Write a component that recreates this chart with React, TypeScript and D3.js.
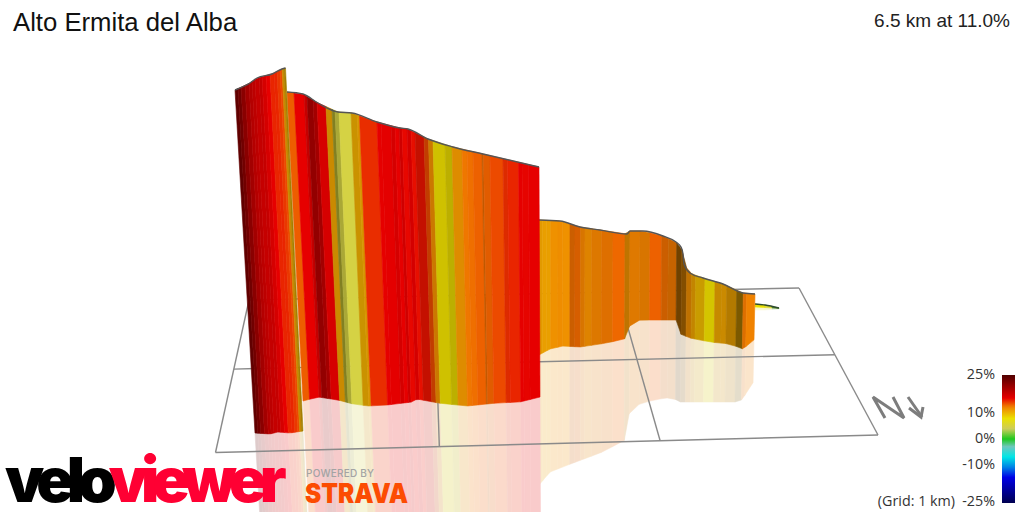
import React from 'react';
import * as d3 from 'd3';

const width = 1024;
const height = 512;

// The 3D wall has no axes, so everything is read in view units (0-1024, 0-512)
const sectionAEdges = [235, 238, 241, 245, 249, 252, 255, 259, 262, 266, 270, 274, 277, 280, 282, 284, 285.5];
const sectionAGrades = [24, 23, 21.5, 20, 19, 18.5, 18, 18, 17, 16, 15, 15, 14.5, 14, 11, 10];
const sectionAShade = [1, 1, 1, 1, 1, 1, 1, 1, 1, 1, 1, 1, 1, 1, 0.85, 0.7];
const sectionARidgeX = [235, 250, 257, 272, 282, 285.5];
const sectionARidgeY = [90, 83, 78, 74, 69, 68];
const sectionABaseX = [255, 270, 278, 290, 303];
const sectionABaseY = [433, 434, 432, 433, 431];
const sectionALean = [255, 303];

const sectionBEdges = [287, 294, 304, 307, 313, 317, 326, 332, 335, 339, 351, 357, 359.5, 377, 381, 391, 395, 399, 402, 407, 411, 415, 424, 428.5, 433, 445, 452, 462, 467, 473, 482, 483.5, 490, 503, 507.5, 518.5, 522, 528.5, 539];
const sectionBGrades = [13.5, 16, 18, 21, 20, 16, 11, 5.5, 5, 5, 10.5, 10.8, 14.8, 16, 16.1, 17, 16, 16, 15.8, 16, 15.6, 15.5, 14, 12, 8.3, 8.3, 11.5, 12.8, 13, 13.4, 13, 13.4, 14, 14.8, 15, 16, 15.9, 16];
const sectionBShade = [1, 1, 1, 1, 1, 0.93, 0.85, 0.6, 0.8, 1, 0.85, 0.9, 1, 1, 1, 1, 1, 0.9, 1, 0.92, 1, 0.85, 0.82, 0.85, 0.88, 0.8, 0.93, 1, 1, 1, 0.8, 0.95, 1, 0.95, 1, 1, 1, 1];
const sectionBRidgeX = [287, 303, 318, 338, 352, 377, 400, 408, 428, 453, 483, 539];
const sectionBRidgeY = [92, 94, 103, 112, 113, 122, 128, 129, 139, 147, 154, 167];
const sectionBBaseX = [303, 318, 338, 353, 368, 387, 412, 417, 433, 438, 467, 497, 520, 540];
const sectionBBaseY = [401, 397, 400, 404, 406, 405, 402, 399, 402, 403, 406, 403, 402, 397];
const sectionBLean = [303, 540];

const sectionCEdges = [539, 542.7, 546.7, 550.7, 558, 562.7, 570, 575, 580.7, 585, 591.7, 601.7, 613, 625, 630, 640, 650, 661.7, 668.3, 676.7, 681.7, 686.7, 691.7, 695.7, 705, 715, 721.7, 726.7, 736.7, 743.3, 746.7, 755];
const sectionCGrades = [11, 11, 11, 11.8, 12, 11.8, 13, 13.2, 12.5, 12, 12.5, 12.8, 13.2, 11.8, 12.5, 12.5, 13.4, 13, 12.8, 12, 12, 12, 11, 10, 8.3, 10.8, 11, 11, 10.5, 12.8, 12.5];
const sectionCShade = [0.95, 0.98, 0.98, 1, 1, 1, 0.85, 0.9, 0.9, 0.93, 0.92, 0.93, 1, 0.8, 0.93, 0.9, 1, 0.85, 0.83, 0.47, 0.55, 0.8, 0.82, 0.85, 0.9, 0.83, 0.85, 0.75, 0.52, 0.93, 1];
const sectionCRidgeX = [539, 560, 580, 600, 627, 630, 643, 663, 676, 681, 683, 684, 690, 703, 723, 743, 755];
const sectionCRidgeY = [220, 221, 227, 230, 234, 231, 231, 236, 242, 247, 254, 264, 273, 278, 284, 293, 294];
const sectionCBaseX = [539, 550, 563, 580, 607, 628, 630, 640, 677, 678, 690, 710, 730, 743, 755];
const sectionCBaseY = [355, 349, 346, 347, 343, 338, 323, 320, 320, 333, 338, 342, 344, 349, 339];
const sectionCLean = [539, 754];
const sectionCMirrorX = [539, 550, 573, 600, 610, 625, 628, 637, 653, 673, 678, 740, 745, 752, 755];
const sectionCMirrorY = [485, 472, 463, 453, 448, 440, 415, 405, 400, 397, 402, 402, 395, 383, 382];

const tailEdges = [755, 765, 772, 779];
const tailGrades = [8, 6, 2];
const tailShade = [1, 1, 0.7];
const tailRidgeX = [755, 765, 779];
const tailRidgeY = [304, 305, 308];
const tailBaseX = [755, 765, 779];
const tailBaseY = [307, 307.5, 308.5];
const tailLean = [755, 779];

const reflectionScale = 0.95;

// Floor grid: 3 x 2 km, corners
const gridCols = [0, 1, 2, 3];
const gridRows = [0, 1, 2];
const floorFrontLeft = [215.5, 452.5];
const floorFrontRight = [878, 435];
const floorBackRight = [799, 288];
const floorBackLeft = [249, 300];

// Colour ramp of the legend
const legendGrades = [25, 16, 12.5, 8, 4, 0, -3, -7, -11, -15, -25];
const legendColours = ['#500000', '#e60000', '#f08200', '#ebe100', '#cdcd5a', '#1ec81e', '#6ec8be', '#00e6e6', '#0082e6', '#0000e6', '#000050'];
const legendTicks = [25, 10, 0, -10, -25];

const northN = [[885, 418], [873, 397], [904, 418], [893, 397]];
const northArrowShaft = [[908, 397], [922, 417]];
const northArrowHead = [[909, 408], [921, 417], [923, 407]];

const viewX = d3.scaleLinear().domain([0, 1024]).range([0, width]);
const viewY = d3.scaleLinear().domain([0, 512]).range([0, height]);
const gradeColour = d3.scaleLinear<string>().domain(legendGrades).range(legendColours).interpolate(d3.interpolateRgb);
const legendY = d3.scaleLinear().domain([25, -25]).range([375, 503]);

// Unit square to floor quad, so the grid gets the picture's perspective
const floorPoint = (col: number, row: number) => {
  const u = col / 3;
  const v = row / 2;
  const [x0, y0] = floorFrontLeft;
  const [x1, y1] = floorFrontRight;
  const [x2, y2] = floorBackRight;
  const [x3, y3] = floorBackLeft;
  const sx = x0 - x1 + x2 - x3;
  const sy = y0 - y1 + y2 - y3;
  const dx1 = x1 - x2;
  const dx2 = x3 - x2;
  const dy1 = y1 - y2;
  const dy2 = y3 - y2;
  const det = dx1 * dy2 - dx2 * dy1;
  const g = (sx * dy2 - dx2 * sy) / det;
  const h = (dx1 * sy - sx * dy1) / det;
  const w = g * u + h * v + 1;
  return [
    viewX(((x1 - x0 + g * x1) * u + (x3 - x0 + h * x3) * v + x0) / w),
    viewY(((y1 - y0 + g * y1) * u + (y3 - y0 + h * y3) * v + y0) / w),
  ];
};

type Section = {
  edges: number[];
  grades: number[];
  shade: number[];
  ridgeX: number[];
  ridgeY: number[];
  baseX: number[];
  baseY: number[];
  lean: number[];
  mirrorX?: number[];
  mirrorY?: number[];
};

const sections: Section[] = [
  { edges: tailEdges, grades: tailGrades, shade: tailShade, ridgeX: tailRidgeX, ridgeY: tailRidgeY, baseX: tailBaseX, baseY: tailBaseY, lean: tailLean },
  { edges: sectionCEdges, grades: sectionCGrades, shade: sectionCShade, ridgeX: sectionCRidgeX, ridgeY: sectionCRidgeY, baseX: sectionCBaseX, baseY: sectionCBaseY, lean: sectionCLean, mirrorX: sectionCMirrorX, mirrorY: sectionCMirrorY },
  { edges: sectionBEdges, grades: sectionBGrades, shade: sectionBShade, ridgeX: sectionBRidgeX, ridgeY: sectionBRidgeY, baseX: sectionBBaseX, baseY: sectionBBaseY, lean: sectionBLean },
  { edges: sectionAEdges, grades: sectionAGrades, shade: sectionAShade, ridgeX: sectionARidgeX, ridgeY: sectionARidgeY, baseX: sectionABaseX, baseY: sectionABaseY, lean: sectionALean },
];

const stripColour = (grade: number, shade: number) => {
  const c = d3.rgb(gradeColour(grade));
  return d3.rgb(c.r * shade, c.g * shade, c.b * shade).formatHex();
};

const polyline = d3.line();

const buildStrips = (s: Section) => {
  const ridge = d3.scaleLinear().domain(s.ridgeX).range(s.ridgeY);
  const base = d3.scaleLinear().domain(s.baseX).range(s.baseY);
  const toBase = d3.scaleLinear().domain([s.edges[0], s.edges[s.edges.length - 1]]).range(s.lean);
  const mirror = s.mirrorX ? d3.scaleLinear().domain(s.mirrorX).range(s.mirrorY as number[]) : null;
  const corner = (e: number) => {
    const bx = toBase(e);
    const ty = ridge(e);
    const by = base(bx);
    const mx = bx + reflectionScale * (bx - e);
    return {
      top: [viewX(e), viewY(ty)],
      bottom: [viewX(bx), viewY(by)],
      mirror: [viewX(mx), viewY(mirror ? mirror(mx) : by + reflectionScale * (by - ty))],
    };
  };
  return s.grades.map((grade, i) => {
    const a = corner(s.edges[i]);
    const b = corner(s.edges[i + 1]);
    return {
      colour: stripColour(grade, s.shade[i]),
      wall: polyline([a.top, b.top, b.bottom, a.bottom] as [number, number][]) + 'Z',
      reflection: polyline([a.bottom, b.bottom, b.mirror, a.mirror] as [number, number][]) + 'Z',
    };
  });
};

const App = () => {
  const built = sections.map(buildStrips);
  const gridPaths = [
    ...gridCols.map(c => polyline([floorPoint(c, 0), floorPoint(c, 2)] as [number, number][])),
    ...gridRows.map(r => polyline([floorPoint(0, r), floorPoint(3, r)] as [number, number][])),
  ];
  const legendStops = d3.range(0, 1.0001, 0.02).map(t => {
    const grade = 25 - t * 50;
    return { offset: `${t * 100}%`, colour: gradeColour(grade) };
  });
  const ridgeLine = d3.line().curve(d3.curveMonotoneX);

  return (
    <svg
      width={width}
      height={height}
      style={{ position: 'absolute', left: 0, top: 0, background: '#fff' }}
      fontFamily="'Liberation Sans', Arial, sans-serif"
    >
      <defs>
        <linearGradient id="legendRamp" x1="0" y1="0" x2="0" y2="1">
          {legendStops.map(s => <stop key={s.offset} offset={s.offset} stopColor={s.colour} />)}
        </linearGradient>
      </defs>

      <g opacity={0.2}>
        {built.map((strips, i) => (
          <g key={i}>
            {strips.map((s, j) => <path key={j} d={s.reflection} fill={s.colour} stroke={s.colour} strokeWidth={0.5} />)}
          </g>
        ))}
      </g>

      <g fill="none" stroke="#8a8a8a" strokeWidth={1.4}>
        {gridPaths.map((d, i) => <path key={i} d={d as string} />)}
      </g>

      {built.map((strips, i) => (
        <g key={i}>
          {strips.map((s, j) => <path key={j} d={s.wall} fill={s.colour} stroke={s.colour} strokeWidth={0.6} />)}
          <path
            d={ridgeLine(sections[i].ridgeX.map((x, k) => [viewX(x), viewY(sections[i].ridgeY[k])]) as [number, number][]) as string}
            fill="none"
            stroke={i === 0 ? '#2f4a2f' : '#555'}
            strokeWidth={1.4}
          />
        </g>
      ))}

      <g fill="none" stroke="#7d7d7d" strokeWidth={3}>
        <path d={polyline(northN as [number, number][]) as string} />
        <path d={polyline(northArrowShaft as [number, number][]) as string} />
        <path d={polyline(northArrowHead as [number, number][]) as string} />
      </g>

      <text x={13} y={31} fontSize={25.7} fill="#111">Alto Ermita del Alba</text>
      <text x={1010} y={27} fontSize={19} fill="#222" textAnchor="end">6.5 km at 11.0%</text>

      <rect x={1002} y={legendY(25)} width={13} height={legendY(-25) - legendY(25)} fill="url(#legendRamp)" />
      <g fontFamily="'Open Sans', sans-serif" fontSize={14.3} fill="#333" textAnchor="end">
        {legendTicks.map(t => (
          <text key={t} x={995} y={legendY(t) + (t === 25 ? 4 : t === -25 ? 3 : 4)}>{`${t}%`}</text>
        ))}
        <text x={955} y={506}>(Grid: 1 km)</text>
      </g>

      <text x={5} y={502} fontFamily="Inter, sans-serif" fontWeight={900} fontSize={62} letterSpacing={-7}>
        <tspan fill="#000">velo</tspan>
        <tspan fill="#ff0033">viewer</tspan>
      </text>
      <text x={306} y={477} fontSize={10} fill="#a3a3a3" fontFamily="Inter, sans-serif" fontWeight={500} textLength={68}>POWERED BY</text>
      <text x={305} y={503} fontSize={27} fill="#fc4c02" fontFamily="Inter, sans-serif" fontWeight={900} textLength={103} lengthAdjust="spacingAndGlyphs">STRAVA</text>
    </svg>
  );
};

export default App;
